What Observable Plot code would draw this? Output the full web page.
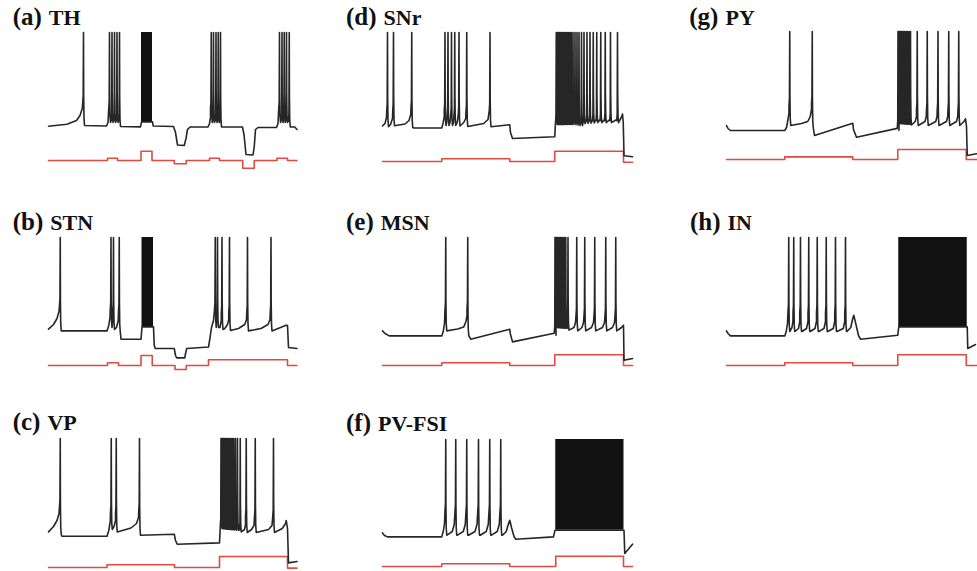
<!DOCTYPE html>
<html><head><meta charset="utf-8">
<script src="https://cdn.jsdelivr.net/npm/d3@7"></script>
<script src="https://cdn.jsdelivr.net/npm/@observablehq/plot@0.6"></script>
<style>
body{margin:0;background:#fff;}
#root{position:relative;width:977px;height:571px;overflow:hidden;background:#fff;}
.p{position:absolute;}
</style></head><body><div id="root"></div>
<script>
// ---------- data (time in ms, membrane potential in mV, current in pA) ----------
const PEAK = 30;
const panelLetters = ["(a)", "(d)", "(g)", "(b)", "(e)", "(h)", "(c)", "(f)"];
const panelNames = ["TH", "SNr", "PY", "STN", "MSN", "IN", "VP", "PV-FSI"];

// (a) TH
const thSpikes = [140, 244, 254, 264, 274, 284, 651, 660, 670, 679, 688, 924, 934, 943, 952, 963];
const thBlocks = [[372, 416, -59.4]];
const thKnots = [[0,-63.7],[74,-61.7],[112,-58],[126,-53],[135,-46],[140,-42],[140,-63],
  [232,-63.5],[238,-60],[242,-54],[244,-48],[244,-60],[284,-60],[284,-64],
  [368,-64.4],[372,-59.4],[416,-59.4],[419,-63.5],
  [500,-64],[508,-70],[516,-82.5],[543,-83],[550,-76],[556,-67],[566,-64.5],
  [638,-64.5],[644,-61],[648,-55],[651,-48],[651,-60],[688,-60],[688,-64.5],
  [776,-64.5],[782,-72],[790,-92],[818,-92.5],[823,-84],[828,-67],[838,-65],
  [912,-65],[918,-61],[922,-55],[924,-48],[924,-60],[963,-60],[963,-64.5],[985,-64.5],[994,-67]];
const thStim = [[0,0],[236,23],[276,0],[370,93],[414,0],[503,-33],[551,0],[644,23],[684,0],[777,-77],[823,0],[914,23],[956,0],[994,0]];

// (b) STN
const stnSpikes = [47, 250, 260, 283, 667, 676, 694, 724, 796, 890];
const stnBlocks = [[374, 420, -59.4]];
const stnKnots = [[0,-61.7],[20,-57],[34,-51],[42,-44],[47,-40],[47,-63.4],
  [234,-63.4],[241,-58],[246,-50],[250,-44],[250,-60],[255,-57],[258,-50],[260,-46],[260,-62],[272,-60],[279,-53],[283,-46],[283,-64],[286,-65],[290,-71.7],
  [370,-71.7],[374,-59.4],[420,-59.4],[423,-78],[427,-81],
  [503,-81],[508,-88],[513,-90.4],[545,-90.4],[549,-85],[553,-81],
  [640,-79.5],[645,-72],[652,-60],[660,-53],[667,-44],[667,-60],[672,-56],[676,-52],[676,-60],[686,-60],[691,-53],[694,-48],[694,-62],[705,-61],[716,-57],[721,-52],[724,-47],[724,-63],
  [760,-61],[785,-57],[792,-52],[796,-47],[796,-63.4],[850,-61],[878,-57],[886,-52],[890,-47],[890,-63.4],
  [950,-57.7],[956,-58],[960,-80],[994,-81]];
const stnStim = [[0,0],[236,27],[280,0],[370,100],[415,0],[506,-40],[551,0],[640,57],[956,0],[994,0]];

// (c) VP
const vpSpikes = [47, 251, 271, 364, 690, 692, 695, 698, 701, 704, 707, 711, 715, 719, 724, 729, 735, 741, 748, 756, 767, 791, 827, 900];
const vpBlocks = [];
const vpKnots = [[0,-63.4],[20,-58],[34,-52],[42,-45],[47,-40],[47,-66],[54,-67.7],
  [234,-67.7],[241,-62],[247,-53],[251,-46],[251,-61],[262,-58],[268,-52],[271,-47],[271,-63.4],[330,-59.5],[352,-55],[360,-49],[364,-44],[364,-66.7],
  [503,-65.7],[508,-72],[515,-75.7],[684,-74.4],[688,-60],
  [760,-62],[770,-64],[784,-61],[788,-56],[791,-50],[791,-64],[812,-61],[822,-57],[827,-50],[827,-64],[880,-61],[894,-57],[900,-50],[900,-64],
  [935,-60],[948,-55],[951,-52],[956,-60],[960,-94.4],[994,-93]];
const vpStim = [[0,0],[234,27],[504,0],[684,110],[956,-6],[994,-6]];

// (d) SNr
const snrSpikes = [20, 44, 117, 250, 262, 276, 289, 306, 337, 430,
  695, 698, 702, 706, 710, 714, 718, 722, 727, 732, 737, 743, 749, 755, 762, 770, 778, 786, 796, 806, 818, 830, 843, 857, 873, 891, 912, 940];
const snrBlocks = [];
const snrKnots = [[0,-63.3],[10,-61],[16,-55],[20,-50],[20,-64.3],[32,-62],[40,-56],[44,-50],[44,-63.3],[90,-61.5],[106,-58],[113,-52],[117,-47],[117,-65],[126,-65.5],
  [237,-65.5],[243,-60],[247,-54],[250,-50],[250,-63],[257,-60],[262,-54],[262,-63],[270,-60],[276,-54],[276,-63],[284,-60],[289,-54],[289,-63],[299,-60],[306,-54],[306,-63.5],[325,-60],[333,-56],[337,-51],[337,-64],[405,-61],[422,-57],[430,-50],[430,-64.3],
  [509,-62.3],[512,-70],[520,-76],[689,-74.3],[693,-62],
  [765,-62],[790,-63],[799,-63.3],[803,-59],[809,-63.3],[815,-58.5],[821,-63.3],[827,-58],[833,-63.3],[840,-57.5],[846,-63.3],[854,-57],[860,-63.3],[870,-57],[876,-63.3],[888,-57],[894,-63.3],[909,-57],[915,-63.3],[937,-57],[943,-63.3],
  [955,-55],[960,-51.6],[963,-60],[966,-93.3],[1000,-94.3]];
const snrStim = [[0,0],[237,27],[509,0],[689,103],[964,-7],[1000,-7]];

// (e) MSN
const msnSpikes = [253, 341, 690, 692, 695, 698, 701, 704, 708, 712, 716, 721, 727, 733, 742, 777, 809, 849, 893, 933];
const msnBlocks = [];
const msnKnots = [[0,-63.4],[10,-66],[27,-68.4],[237,-68.4],[243,-64],[248,-56],[251,-49],[253,-44],[253,-63.4],[300,-61.5],[325,-59.4],[334,-54],[338,-48],[341,-43],[341,-68],[353,-71.7],
  [509,-61.7],[511,-66],[520,-74.4],[689,-71.7],[692,-60],
  [736,-61],[745,-63.4],[766,-60],[772,-55],[777,-50],[777,-63.4],[798,-60],[804,-55],[809,-50],[809,-63.4],[836,-60],[844,-55],[849,-50],[849,-63.4],[880,-60],[888,-55],[893,-50],[893,-63.4],[920,-60],[928,-55],[933,-50],[933,-63.4],
  [956,-60],[964,-57.7],[966,-92.7],[1000,-91]];
const msnStim = [[0,0],[237,27],[509,0],[689,107],[964,0],[1000,0]];

// (f) PV-FSI
const fsiSpikes = [253, 293, 337, 384, 429, 473];
const fsiBlocks = [[693, 966, -60.7]];
const fsiKnots = [[0,-63.4],[8,-66],[20,-67.4],[237,-67.4],[243,-62],[248,-54],[251,-47],[253,-43],[253,-65.7],
  [258,-65.7],[279,-62],[287,-55],[293,-44],[293,-65.7],[300,-65.7],[323,-62],[331,-55],[337,-44],[337,-65.7],[344,-65.7],[370,-62],[378,-55],[384,-44],[384,-65.7],
  [391,-65.7],[415,-62],[423,-55],[429,-44],[429,-65.7],[436,-65.7],[459,-62],[467,-55],[473,-44],[473,-65.7],
  [480,-65.7],[495,-62],[503,-55],[509,-50.7],[516,-58],[526,-67],[533,-69.7],[684,-67.4],[690,-60.7],[966,-60.7],[969,-84],[1000,-74.7]];
const fsiStim = [[0,0],[237,27],[509,0],[693,103],[964,0],[1000,0]];

// (g) PY
const pySpikes = [253, 343, 686, 688, 690, 693, 696, 699, 702, 706, 710, 714, 719, 724, 730, 736, 763, 803, 846, 889, 929];
const pyBlocks = [];
const pyKnots = [[0,-64],[6,-67],[16,-69],[233,-69],[240,-66],[246,-58],[250,-51],[253,-46],[253,-64],[300,-62],[325,-60],[335,-55],[340,-48],[343,-44],[343,-66],[352,-74],
  [505,-61.7],[508,-68],[520,-75.7],[685,-72.3],[688,-62],
  [733,-63],[739,-64],[755,-60],[760,-55],[763,-50],[763,-64],[794,-60],[799,-55],[803,-50],[803,-64],[837,-60],[842,-55],[846,-50],[846,-64],[880,-60],[885,-55],[889,-50],[889,-64],[920,-60],[925,-55],[929,-50],[929,-64],
  [950,-60],[956,-57.3],[960,-65],[963,-94],[1000,-92.3]];
const pyStim = [[0,0],[233,26],[505,0],[685,100],[959,0],[1000,0]];

// (h) IN
const inSpikes = [249, 269, 296, 329, 363, 399, 436, 476];
const inBlocks = [[689, 963, -59.4]];
const inKnots = [[0,-63.4],[6,-66],[16,-68.4],[233,-68.4],[239,-64],[244,-56],[247,-50],[249,-46],[249,-64],
  [253,-64],[262,-60],[266,-53],[269,-47],[269,-64],[274,-64],[288,-61],[293,-54],[296,-47],[296,-64],[302,-64],[320,-61],[326,-54],[329,-47],[329,-64],
  [335,-64],[354,-61],[360,-54],[363,-47],[363,-64],[369,-64],[390,-61],[396,-54],[399,-47],[399,-64],[405,-64],[427,-61],[433,-54],[436,-47],[436,-64],
  [442,-64],[467,-61],[473,-54],[476,-47],[476,-64],[482,-64],[497,-60],[505,-51],[509,-47.7],[516,-55],[528,-68],[536,-71.7],[685,-67.7],[689,-59.4],[963,-59.4],[965,-81],[996,-77]];
const inStim = [[0,0],[233,27],[505,0],[685,107],[959,0],[1000,0]];

// ---------- layout ----------
const panels = [
  {i:0, knots: thKnots,  spikes: thSpikes,  blocks: thBlocks,  stim: thStim,  x0: 48.3,  yPeak: 32.3,  yBase: 160,   lx: 12.7,  ly: 25},
  {i:1, knots: snrKnots, spikes: snrSpikes, blocks: snrBlocks, stim: snrStim, x0: 381.7, yPeak: 31.7,  yBase: 161,   lx: 346,   ly: 25},
  {i:2, knots: pyKnots,  spikes: pySpikes,  blocks: pyBlocks,  stim: pyStim,  x0: 726,   yPeak: 31,    yBase: 159.3, lx: 689.3, ly: 25},
  {i:3, knots: stnKnots, spikes: stnSpikes, blocks: stnBlocks, stim: stnStim, x0: 48.3,  yPeak: 237.3, yBase: 365,   lx: 12.7,  ly: 230},
  {i:4, knots: msnKnots, spikes: msnSpikes, blocks: msnBlocks, stim: msnStim, x0: 381.7, yPeak: 237.3, yBase: 365,   lx: 346,   ly: 230},
  {i:5, knots: inKnots,  spikes: inSpikes,  blocks: inBlocks,  stim: inStim,  x0: 726,   yPeak: 237.3, yBase: 365,   lx: 690,   ly: 230},
  {i:6, knots: vpKnots,  spikes: vpSpikes,  blocks: vpBlocks,  stim: vpStim,  x0: 48.3,  yPeak: 438.3, yBase: 566.7, lx: 12.7,  ly: 430},
  {i:7, knots: fsiKnots, spikes: fsiSpikes, blocks: fsiBlocks, stim: fsiStim, x0: 381.7, yPeak: 439.3, yBase: 566,   lx: 346,   ly: 430.5}
];

function valAt(knots, t, side) {
  const n = knots.length;
  if (side < 0) {
    const i = knots.findIndex(k => k[0] >= t);
    if (i < 0) return knots[n - 1][1];
    if (i === 0 || knots[i][0] === t) return knots[i][1];
    const [t0, v0] = knots[i - 1], [t1, v1] = knots[i];
    return v0 + (v1 - v0) * (t - t0) / (t1 - t0);
  } else {
    let i = -1;
    for (let j = 0; j < n; j++) if (knots[j][0] <= t) i = j;
    if (i < 0) return knots[0][1];
    if (i === n - 1 || knots[i][0] === t) return knots[i][1];
    const [t0, v0] = knots[i], [t1, v1] = knots[i + 1];
    return v0 + (v1 - v0) * (t - t0) / (t1 - t0);
  }
}
// spike waveform: knee before the upstroke, fast upstroke to the peak, curved downstroke
function buildTrace(knots, spikes) {
  const inSpike = t => spikes.some(s => t > s - 3 && t < s + 4);
  const pts = knots.filter(([t]) => !inSpike(t)).map(([t, v]) => ({t, v}));
  for (const s of spikes) {
    const vl = valAt(knots, s, -1), vr = valAt(knots, s, 1);
    pts.push({t: s - 3, v: vl + 2}, {t: s - 1.2, v: vl + 9}, {t: s, v: PEAK},
             {t: s + 0.7, v: vr + 30}, {t: s + 2, v: vr + 7}, {t: s + 4, v: vr});
  }
  return pts.sort((a, b) => a.t - b.t);
}

const root = document.getElementById("root");
const M = 4;
for (const p of panels) {
  const trace = buildTrace(p.knots, p.spikes);
  const stimPts = p.stim.map(([t, I]) => ({t, I}));
  const blocks = p.blocks.map(([t0, t1, lo]) => ({t0, t1, lo, hi: PEAK}));

  const sp = Plot.plot({
    width: 250 + 2 * M, height: 22 + 2 * M,
    marginLeft: M, marginRight: M, marginTop: M, marginBottom: M,
    x: {domain: [0, 1000], axis: null},
    y: {domain: [-100, 120], axis: null},
    style: {background: "transparent", overflow: "visible"},
    marks: [Plot.line(stimPts, {x: "t", y: "I", curve: "step-after", stroke: "#e04a3f", strokeWidth: 1.6})]
  });
  sp.classList.add("p");
  sp.style.left = (p.x0 - M) + "px";
  sp.style.top = (p.yBase - 12 - M) + "px";
  root.appendChild(sp);

  const vp = Plot.plot({
    width: 250 + 2 * M, height: 140 + 2 * M,
    marginLeft: M, marginRight: M, marginTop: M, marginBottom: M,
    x: {domain: [0, 1000], axis: null},
    y: {domain: [-110, 30], axis: null},
    style: {background: "transparent", overflow: "visible"},
    marks: [
      Plot.rect(blocks, {x1: "t0", x2: "t1", y1: "lo", y2: "hi", fill: "#111"}),
      Plot.line(trace, {x: "t", y: "v", stroke: "#262626", strokeWidth: 1.6})
    ]
  });
  vp.classList.add("p");
  vp.style.left = (p.x0 - M) + "px";
  vp.style.top = (p.yPeak - M) + "px";
  root.appendChild(vp);
}

// panel labels
const svg = d3.select(root).append("svg").attr("class", "p")
  .attr("width", 977).attr("height", 571).style("left", "0px").style("top", "0px").style("pointer-events", "none");
for (const p of panels) {
  const t = svg.append("text").attr("x", p.lx).attr("y", p.ly)
    .attr("font-family", "'Liberation Serif','Times New Roman',serif").attr("font-weight", "bold").attr("fill", "#111");
  t.append("tspan").attr("font-size", 25).text(panelLetters[p.i]);
  t.append("tspan").attr("dx", 7).attr("font-size", 22).text(panelNames[p.i]);
}
</script></body></html>
